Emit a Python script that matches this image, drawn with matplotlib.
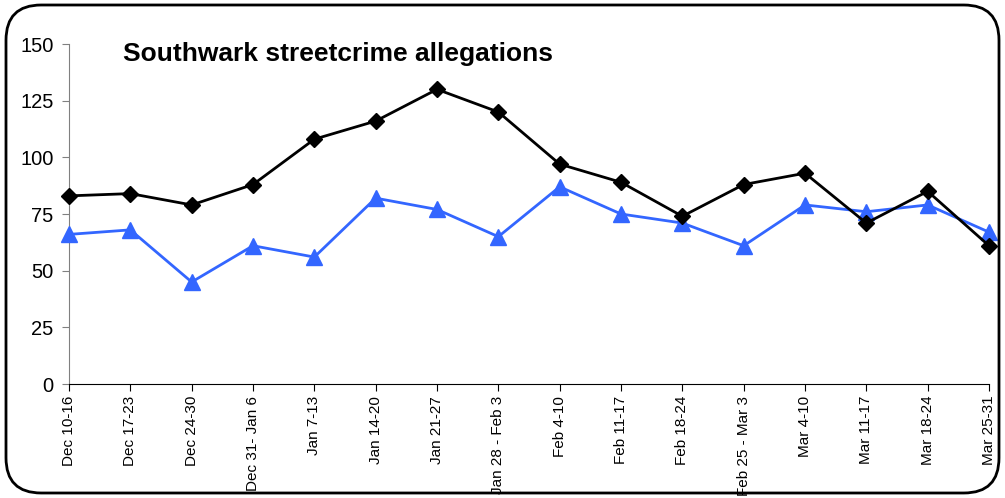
import numpy as np
import matplotlib
matplotlib.use("Agg")
import matplotlib.pyplot as plt
from matplotlib.patches import FancyBboxPatch

weeks = ["Dec 10-16", "Dec 17-23", "Dec 24-30", "Dec 31- Jan 6", "Jan 7-13",
         "Jan 14-20", "Jan 21-27", "Jan 28 - Feb 3", "Feb 4-10", "Feb 11-17",
         "Feb 18-24", "Feb 25 - Mar 3", "Mar 4-10", "Mar 11-17", "Mar 18-24",
         "Mar 25-31"]
black_series = [83, 84, 79, 88, 108, 116, 130, 120, 97, 89, 74, 88, 93, 71, 85, 61]
blue_series = [66, 68, 45, 61, 56, 82, 77, 65, 87, 75, 71, 61, 79, 76, 79, 67]
yticks = [0, 25, 50, 75, 100, 125, 150]

plt.rcParams['font.family'] = ['Liberation Sans', 'DejaVu Sans']

fig = plt.figure(figsize=(10.05, 4.98), dpi=100)
ax = fig.add_axes([69 / 1005, 1 - 384 / 498, 920 / 1005, 340 / 498])

x = np.arange(len(weeks))
ax.plot(x, blue_series, color='#3366ff', lw=2, marker='^', ms=11, clip_on=False, zorder=3)
ax.plot(x, black_series, color='black', lw=2, marker='D', ms=8, clip_on=False, zorder=4)

ax.set_xlim(0, len(weeks) - 1)
ax.set_ylim(0, 150)
ax.set_yticks(yticks)
ax.set_xticks(x)
ax.set_xticklabels(weeks, rotation=90, fontsize=11)
ax.tick_params(axis='y', labelsize=14.5, length=5, color='#808080', direction='out', pad=6)
ax.tick_params(axis='x', length=5, color='black', direction='out')
for s in ['top', 'right']:
    ax.spines[s].set_visible(False)
ax.spines['left'].set_color('#808080')
ax.spines['bottom'].set_color('black')

fig.text(123 / 1005, 1 - 54 / 498, "Southwark streetcrime allegations",
         fontsize=19, fontweight='bold', va='center', ha='left')

frame = FancyBboxPatch((6 / 1005, 5 / 498), 993 / 1005, 488 / 498,
                       boxstyle="round,pad=0,rounding_size=0.035",
                       transform=fig.transFigure, fill=False, lw=2,
                       edgecolor='black', mutation_aspect=1005 / 498)
fig.patches.append(frame)

fig.savefig("out.png", dpi=100)
